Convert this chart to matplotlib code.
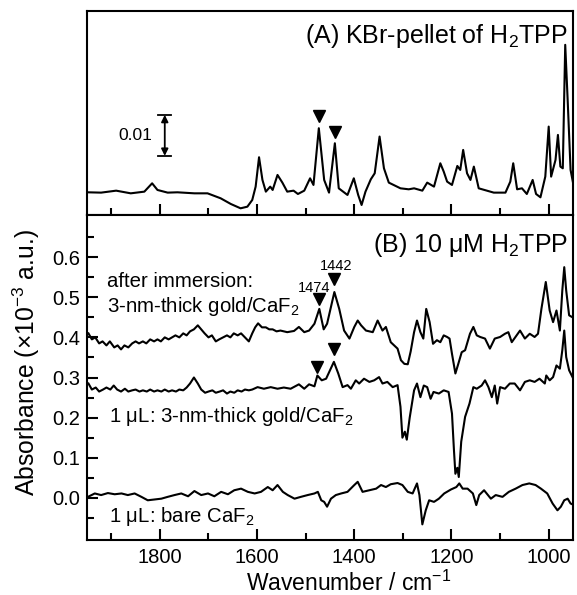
import matplotlib
matplotlib.use("Agg")
import matplotlib.pyplot as plt
import numpy as np

plt.rcParams['font.family'] = ['Liberation Sans', 'DejaVu Sans']
plt.rcParams['mathtext.fontset'] = 'custom'
plt.rcParams['mathtext.rm'] = 'Liberation Sans'
plt.rcParams['mathtext.it'] = 'Liberation Sans:italic'
plt.rcParams['mathtext.bf'] = 'Liberation Sans:bold'
plt.rcParams['mathtext.default'] = 'regular'

# ---------------- data ----------------
# (A) KBr pellet spectrum, absorbance in units of 1e-3
kbr_spectrum = [
    (1949, 5.53), (1921, 5.45), (1890, 5.93), (1860, 5.28), (1832, 5.69), (1816, 7.72),
    (1805, 6.10), (1784, 5.45), (1764, 5.53), (1729, 5.28), (1702, 5.28), (1675, 4.07),
    (1654, 2.68), (1634, 1.63), (1620, 2.03), (1610, 3.66), (1603, 6.91), (1596, 14.07),
    (1589, 8.54), (1582, 5.69), (1573, 6.91), (1568, 6.10), (1558, 9.76), (1548, 7.89),
    (1538, 5.69), (1525, 5.93), (1516, 5.12), (1503, 5.93), (1491, 8.94), (1484, 7.32),
    (1473, 21.14), (1462, 8.54), (1452, 5.45), (1440, 17.48), (1432, 6.50), (1414, 4.88),
    (1401, 8.94), (1392, 4.88), (1385, 2.44), (1377, 5.69), (1366, 8.70), (1358, 10.16),
    (1348, 19.11), (1339, 11.38), (1329, 7.89), (1305, 6.50), (1288, 6.26), (1277, 6.50),
    (1260, 5.93), (1250, 7.89), (1236, 6.91), (1223, 12.60), (1216, 10.57), (1209, 8.13),
    (1199, 7.32), (1188, 11.95), (1182, 10.98), (1176, 15.85), (1168, 10.16), (1161, 8.54),
    (1154, 11.79), (1144, 6.50), (1113, 5.45), (1089, 5.45), (1079, 8.13), (1073, 12.60),
    (1065, 6.26), (1055, 6.50), (1045, 5.12), (1033, 8.54), (1026, 5.12), (1017, 4.31),
    (1007, 9.35), (1000, 21.54), (995, 9.35), (986, 13.41), (981, 19.51), (976, 11.79),
    (971, 11.38), (966, 41.46), (961, 28.05), (955, 10.98), (950, 7.89),
]

# (B) after immersion: 3-nm-thick gold/CaF2 (absorbance x1e-3, offset as plotted)
immersion_gold = [
    (1947, 0.41), (1940, 0.395), (1933, 0.40), (1925, 0.385), (1918, 0.39), (1910, 0.38),
    (1903, 0.39), (1894, 0.375), (1887, 0.38), (1880, 0.37), (1873, 0.38), (1865, 0.375),
    (1857, 0.385), (1850, 0.39), (1843, 0.385), (1835, 0.39), (1828, 0.385), (1820, 0.395),
    (1812, 0.39), (1805, 0.395), (1798, 0.39), (1790, 0.40), (1782, 0.395), (1775, 0.40),
    (1768, 0.405), (1760, 0.40), (1752, 0.41), (1745, 0.405), (1738, 0.415), (1730, 0.42),
    (1722, 0.43), (1715, 0.42), (1708, 0.41), (1700, 0.40), (1693, 0.405), (1685, 0.39),
    (1678, 0.395), (1670, 0.40), (1662, 0.405), (1655, 0.40), (1648, 0.41), (1640, 0.405),
    (1633, 0.41), (1625, 0.40), (1617, 0.39), (1610, 0.41), (1604, 0.425), (1598, 0.435),
    (1590, 0.425), (1582, 0.425), (1575, 0.42), (1568, 0.42), (1560, 0.415), (1552, 0.417),
    (1545, 0.415), (1538, 0.413), (1524, 0.416), (1514, 0.426), (1503, 0.413), (1493, 0.417),
    (1482, 0.434), (1472, 0.471), (1463, 0.42), (1456, 0.434), (1441, 0.513), (1431, 0.471),
    (1421, 0.417), (1410, 0.397), (1400, 0.426), (1393, 0.442), (1386, 0.43), (1376, 0.417),
    (1362, 0.413), (1352, 0.442), (1342, 0.417), (1335, 0.426), (1325, 0.388), (1318, 0.38),
    (1311, 0.372), (1304, 0.343), (1297, 0.334), (1290, 0.333), (1284, 0.365), (1277, 0.413),
    (1271, 0.442), (1264, 0.413), (1258, 0.397), (1252, 0.471), (1245, 0.438), (1238, 0.384),
    (1230, 0.393), (1223, 0.388), (1216, 0.405), (1209, 0.401), (1204, 0.397), (1199, 0.359),
    (1192, 0.31), (1186, 0.334), (1179, 0.363), (1172, 0.368), (1162, 0.409), (1155, 0.426),
    (1148, 0.405), (1141, 0.401), (1131, 0.397), (1121, 0.372), (1111, 0.397), (1100, 0.401),
    (1090, 0.409), (1083, 0.413), (1076, 0.388), (1066, 0.405), (1059, 0.417), (1049, 0.397),
    (1039, 0.409), (1029, 0.401), (1022, 0.409), (1015, 0.471), (1006, 0.538), (998, 0.467),
    (991, 0.438), (984, 0.467), (977, 0.417), (972, 0.517), (968, 0.575), (964, 0.517),
    (958, 0.455), (951, 0.45),
]

# (B) 1 uL: 3-nm-thick gold/CaF2
drop_gold = [
    (1947, 0.285), (1940, 0.27), (1932, 0.275), (1925, 0.265), (1917, 0.27), (1910, 0.275),
    (1902, 0.27), (1895, 0.28), (1888, 0.27), (1880, 0.265), (1872, 0.272), (1865, 0.265),
    (1857, 0.268), (1850, 0.27), (1842, 0.265), (1835, 0.268), (1827, 0.265), (1820, 0.27),
    (1812, 0.265), (1805, 0.268), (1797, 0.265), (1790, 0.27), (1782, 0.265), (1775, 0.268),
    (1767, 0.265), (1760, 0.27), (1752, 0.268), (1745, 0.275), (1738, 0.285), (1730, 0.30),
    (1722, 0.285), (1715, 0.27), (1707, 0.262), (1700, 0.265), (1692, 0.268), (1685, 0.262),
    (1677, 0.265), (1670, 0.268), (1662, 0.26), (1655, 0.265), (1647, 0.262), (1640, 0.268),
    (1632, 0.265), (1625, 0.27), (1617, 0.268), (1610, 0.27), (1599, 0.276), (1586, 0.272),
    (1572, 0.276), (1558, 0.272), (1545, 0.275), (1531, 0.272), (1514, 0.283), (1503, 0.272),
    (1493, 0.283), (1482, 0.278), (1476, 0.305), (1467, 0.293), (1458, 0.297), (1442, 0.339),
    (1433, 0.31), (1424, 0.276), (1414, 0.281), (1407, 0.272), (1397, 0.293), (1390, 0.285),
    (1380, 0.297), (1369, 0.289), (1359, 0.293), (1349, 0.301), (1342, 0.285), (1332, 0.289),
    (1321, 0.276), (1311, 0.281), (1305, 0.227), (1301, 0.15), (1296, 0.165), (1292, 0.145),
    (1286, 0.2), (1277, 0.268), (1271, 0.285), (1264, 0.251), (1257, 0.28), (1250, 0.276),
    (1243, 0.247), (1237, 0.264), (1226, 0.26), (1216, 0.268), (1206, 0.264), (1199, 0.21),
    (1195, 0.12), (1192, 0.06), (1188, 0.075), (1185, 0.052), (1180, 0.14), (1172, 0.202),
    (1163, 0.235), (1155, 0.276), (1148, 0.272), (1138, 0.28), (1131, 0.293), (1124, 0.276),
    (1117, 0.251), (1111, 0.28), (1106, 0.235), (1100, 0.276), (1090, 0.272), (1080, 0.285),
    (1070, 0.285), (1059, 0.268), (1049, 0.289), (1039, 0.293), (1029, 0.289), (1019, 0.297),
    (1008, 0.285), (1005, 0.305), (998, 0.293), (991, 0.301), (984, 0.33), (977, 0.322),
    (972, 0.368), (968, 0.417), (964, 0.351), (958, 0.318), (951, 0.301),
]

# (B) 1 uL: bare CaF2
drop_bare = [
    (1948, 0.0025), (1934, 0.011), (1921, 0.007), (1907, 0.012), (1893, 0.009), (1879, 0.011),
    (1866, 0.007), (1852, 0.011), (1838, 0.0025), (1825, -0.006), (1811, -0.004), (1797, -0.002),
    (1784, 0.0025), (1770, 0.007), (1756, 0.011), (1742, 0.004), (1729, 0.017), (1715, 0.007),
    (1701, 0.011), (1688, 0.004), (1674, 0.015), (1660, 0.009), (1647, 0.019), (1633, 0.023),
    (1619, 0.015), (1605, 0.011), (1592, 0.015), (1578, 0.027), (1568, 0.019), (1558, 0.032),
    (1547, 0.015), (1537, 0.007), (1523, -0.002), (1510, 0.0025), (1496, 0.007), (1482, 0.011),
    (1475, 0.015), (1468, -0.006), (1462, -0.01), (1456, -0.022), (1448, -0.002), (1438, 0.007),
    (1427, 0.011), (1414, 0.015), (1400, 0.032), (1393, 0.04), (1383, 0.015), (1369, 0.019),
    (1355, 0.023), (1345, 0.032), (1335, 0.027), (1325, 0.034), (1311, 0.037), (1301, 0.032),
    (1290, 0.015), (1280, 0.011), (1271, 0.036), (1266, 0.007), (1260, -0.066), (1253, -0.031),
    (1246, -0.006), (1236, -0.01), (1226, -0.002), (1215, 0.011), (1201, 0.021), (1190, 0.027),
    (1184, 0.036), (1177, 0.023), (1167, 0.023), (1156, 0.011), (1149, -0.018), (1143, 0.007),
    (1133, 0.019), (1119, -0.002), (1109, 0.007), (1095, 0.0025), (1082, 0.015), (1068, 0.023),
    (1054, 0.032), (1040, 0.036), (1027, 0.032), (1016, 0.023), (1003, 0.011), (992, -0.014),
    (982, -0.031), (975, -0.022), (968, -0.006), (961, -0.002), (955, -0.014), (948, -0.018),
]

# peak markers (wavenumber, height)
markers_A = [(1473, 24.0), (1440, 20.3)]
markers_B = [(1472, 0.496), (1442, 0.546), (1476, 0.326), (1441, 0.372)]
peak_labels = [("1474", 1482, 0.513), ("1442", 1438, 0.567)]

x_ticks = [1800, 1600, 1400, 1200, 1000]
y_ticks = [0.0, 0.1, 0.2, 0.3, 0.4, 0.5, 0.6]

# ---------------- figure ----------------
W, H = 577, 595
fig = plt.figure(figsize=(W / 100, H / 100), dpi=100)

def fx(px):
    return px / W

def fy(py):
    return 1 - py / H

L, R = 87, 573
axA = fig.add_axes([fx(L), fy(215), fx(R) - fx(L), fy(11) - fy(215)])
axB = fig.add_axes([fx(L), fy(540), fx(R) - fx(L), fy(215) - fy(540)])

lw = 1.5
for ax in (axA, axB):
    for s in ax.spines.values():
        s.set_linewidth(1.5)
    ax.set_xlim(1950, 950)
    ax.set_xticks(x_ticks)
    ax.set_xticks(np.arange(1900, 949, -200), minor=True)
    ax.tick_params(axis='x', which='both', direction='in', top=False, width=1.5)
    ax.tick_params(axis='x', which='major', length=8)
    ax.tick_params(axis='x', which='minor', length=5)

def unpack(pairs):
    a = np.array(pairs, dtype=float)
    return a[:, 0], a[:, 1]

# Panel A
xw, yv = unpack(kbr_spectrum)
axA.plot(xw, yv, color='black', lw=lw)
axA.set_ylim(0, 49.7)
axA.set_yticks([])
axA.tick_params(axis='x', labelbottom=False)
mx, my = unpack(markers_A)
axA.plot(mx, my, linestyle='none', marker='v', color='black', markersize=8.5)
axA.text(0.99, 0.945, r"(A) KBr-pellet of H$_2$TPP", transform=axA.transAxes,
         ha='right', va='top', fontsize=18)
# scale bar 0.01
axA.annotate("", xy=(1790, 24.4), xytext=(1790, 14.4),
             arrowprops=dict(arrowstyle='<|-|>', color='black', lw=1.3,
                             mutation_scale=10, shrinkA=0, shrinkB=0))
axA.plot([1803, 1777], [24.4, 24.4], color='black', lw=1.3)
axA.plot([1803, 1777], [14.4, 14.4], color='black', lw=1.3)
axA.text(1815, 19.3, "0.01", ha='right', va='center', fontsize=12.5)

# Panel B
for series in (immersion_gold, drop_gold, drop_bare):
    xw, yv = unpack(series)
    axB.plot(xw, yv, color='black', lw=lw)
axB.set_ylim(-0.105, 0.705)
axB.set_yticks(y_ticks)
axB.set_yticklabels([f"{v:.1f}" for v in y_ticks])
axB.set_yticks(np.arange(-0.05, 0.70, 0.1), minor=True)
axB.tick_params(axis='y', which='both', direction='in', right=False, width=1.5)
axB.tick_params(axis='y', which='major', length=8, labelsize=14.5, pad=5)
axB.tick_params(axis='y', which='minor', length=5)
axB.tick_params(axis='x', which='major', labelsize=14.5, pad=5.5)
mx, my = unpack(markers_B)
axB.plot(mx, my, linestyle='none', marker='v', color='black', markersize=8.5)
for txt, xw_, yv_ in peak_labels:
    axB.text(xw_, yv_, txt, ha='center', va='baseline', fontsize=10.5)

axB.text(0.99, 0.952, r"(B) 10 μM H$_2$TPP", transform=axB.transAxes,
         ha='right', va='top', fontsize=18)
axB.text(1909, 0.5245, "after immersion:", ha='left', va='baseline', fontsize=14.7)
axB.text(1909, 0.463, r"3-nm-thick gold/CaF$_2$", ha='left', va='baseline', fontsize=14.7)
axB.text(1905, 0.189, r"1 μL: 3-nm-thick gold/CaF$_2$", ha='left', va='baseline', fontsize=14.7)
axB.text(1905, -0.06, r"1 μL: bare CaF$_2$", ha='left', va='baseline', fontsize=14.7)

fig.text(fx(349), fy(591), r"Wavenumber / cm$^{-1}$", ha='center', va='baseline', fontsize=16.5)
fig.text(fx(26), fy(363), r"Absorbance (×10$^{-3}$ a.u.)", ha='center', va='center',
         rotation=90, fontsize=17.8)

fig.savefig("out.png", dpi=100)
